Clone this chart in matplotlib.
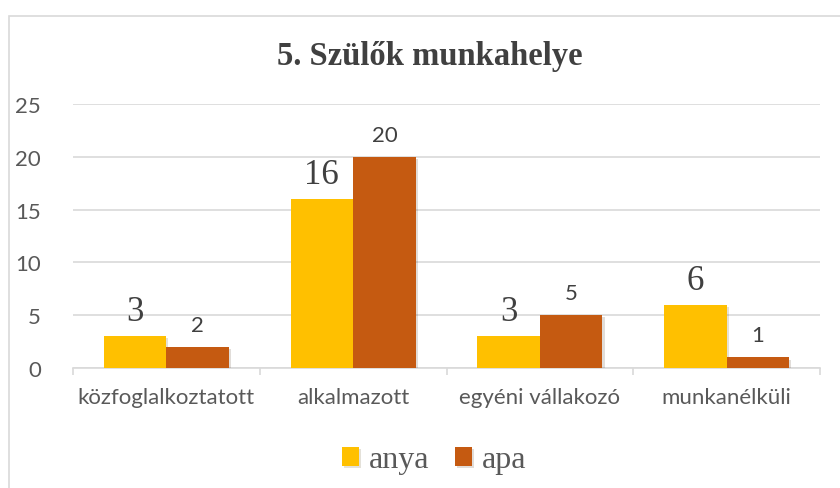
import numpy as np
import matplotlib
matplotlib.use("Agg")
import matplotlib.pyplot as plt
import matplotlib.patheffects as pe
from matplotlib.patches import Rectangle

categories = ["közfoglalkoztatott", "alkalmazott", "egyéni vállakozó", "munkanélküli"]
anya = [3, 16, 3, 6]
apa = [2, 20, 5, 1]
title = "5. Szülők munkahelye"

col_anya = "#FFC000"
col_apa = "#C55A11"
gray = "#595959"

fig = plt.figure(figsize=(8.4, 4.89), dpi=100)
ax = fig.add_axes([73 / 840, 1 - 369 / 489, 747 / 840, 264 / 489])

x = np.arange(len(categories))
w = 0.335
shadow = [pe.SimplePatchShadow(offset=(1.5, -1.5), alpha=0.15), pe.Normal()]
b1 = ax.bar(x - w / 2, anya, w, color=col_anya, label="anya", zorder=3)
b2 = ax.bar(x + w / 2, apa, w, color=col_apa, label="apa", zorder=3)
for b in list(b1) + list(b2):
    b.set_path_effects(shadow)

for xi, v in zip(x, anya):
    ax.text(xi - w / 2, v + 0.75, str(v), ha="center", va="bottom",
            family="Liberation Serif", fontsize=25, color="#404040")
for xi, v in zip(x, apa):
    ax.text(xi + w / 2, v + 1.15, str(v), ha="center", va="bottom",
            family="Lato", fontsize=16, color="#404040")

ax.set_xlim(-0.5, len(categories) - 0.5)
ax.set_ylim(0, 25)
ax.set_yticks(range(0, 26, 5))
ax.yaxis.grid(True, color="#D9D9D9", linewidth=1.2, zorder=0)
ax.set_axisbelow(True)
for s in ["top", "right", "left"]:
    ax.spines[s].set_visible(False)
ax.spines["bottom"].set_color("#D9D9D9")
ax.spines["bottom"].set_linewidth(1.2)

ax.set_xticks(x)
ax.set_xticklabels(categories, family="Lato", fontsize=16, color=gray)
ax.set_xticks(np.arange(-0.5, len(categories)), minor=True)
ax.tick_params(axis="x", which="major", length=0, pad=14)
ax.tick_params(axis="x", which="minor", length=5, color="#D9D9D9", width=1.2)
ax.tick_params(axis="y", length=0, pad=23, labelsize=16, labelcolor=gray)
for lab in ax.get_yticklabels():
    lab.set_family("Lato")

fig.text(430 / 840, 1 - 57 / 489, title, ha="center", va="center",
         family="Liberation Serif", fontweight="bold", fontsize=23.5, color="#404040")

leg = fig.legend(handles=[b1, b2], labels=["anya", "apa"], loc="center",
                 bbox_to_anchor=(434 / 840, 1 - 461 / 489), ncol=2, frameon=False,
                 prop={"family": "Liberation Serif", "size": 23},
                 handlelength=0.55, handleheight=0.55, handletextpad=0.3, columnspacing=0.8)
for t in leg.get_texts():
    t.set_color(gray)

fig.patches.append(Rectangle((8.5 / 840, -0.1), 2, 1 - 16.5 / 489 + 0.1,
                             transform=fig.transFigure, fill=False,
                             edgecolor="#D9D9D9", linewidth=1.2))

fig.savefig("out.png", dpi=100)
